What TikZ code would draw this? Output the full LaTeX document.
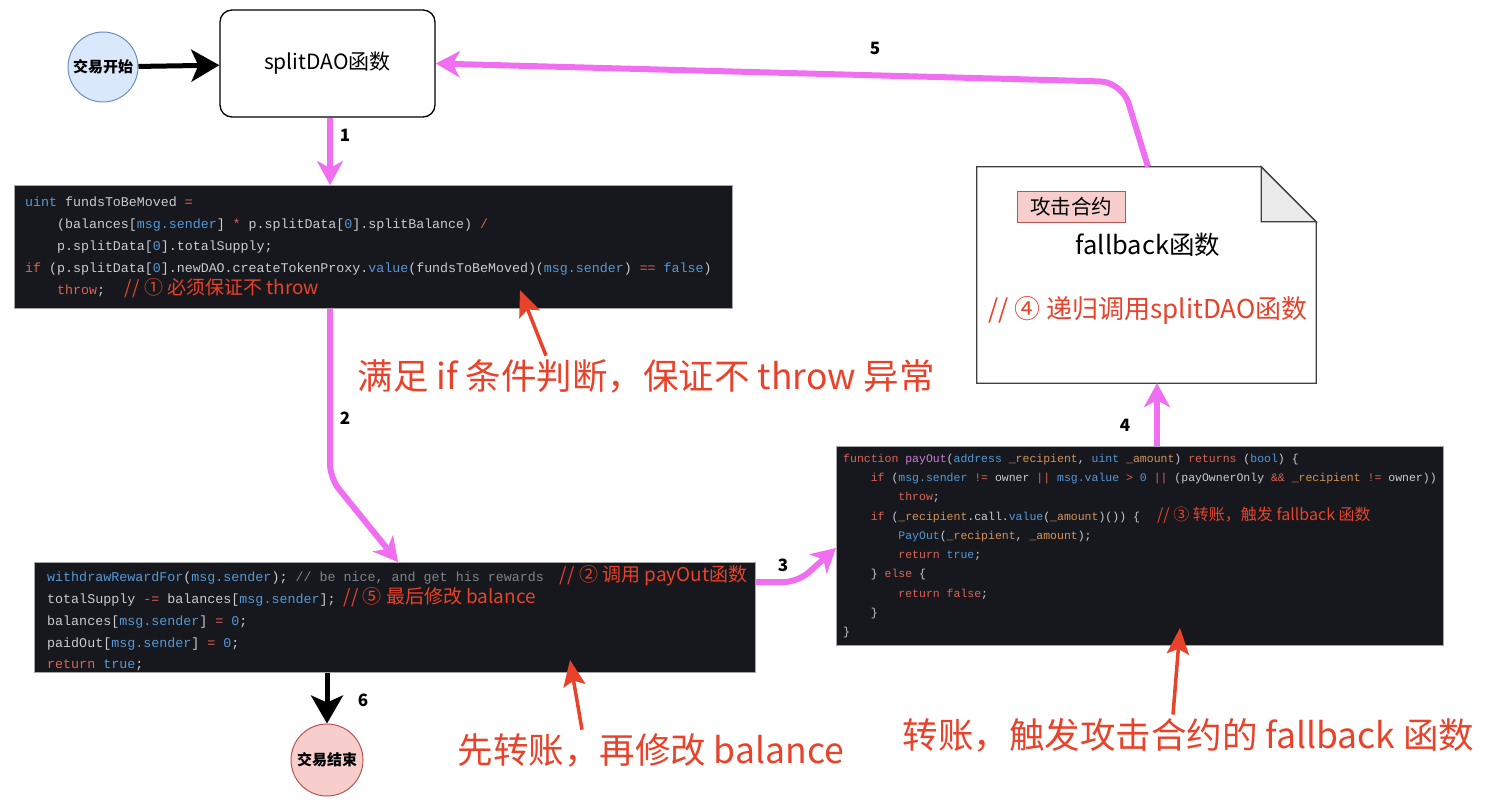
\documentclass[tikz,border=0pt]{standalone}
\usepackage{fontspec}
\setmainfont{Noto Sans CJK SC}
\setmonofont{Liberation Mono}
\usetikzlibrary{arrows.meta, positioning}

\definecolor{flowpink}{RGB}{240,110,240}
\definecolor{notered}{RGB}{232,66,42}
\definecolor{codebg}{RGB}{22,24,29}
\definecolor{codefg}{RGB}{200,203,208}
\definecolor{codekw}{RGB}{222,98,84}
\definecolor{codety}{RGB}{86,152,214}
\definecolor{codecm}{RGB}{125,131,140}
\definecolor{codeva}{RGB}{214,146,88}
\definecolor{codefn}{RGB}{205,120,215}
\definecolor{startblue}{RGB}{218,232,252}
\definecolor{startline}{RGB}{108,142,191}
\definecolor{endred}{RGB}{248,206,204}
\definecolor{endline}{RGB}{184,84,80}

% code colouring
\newcommand{\ckw}[1]{\textcolor{codekw}{#1}}
\newcommand{\cty}[1]{\textcolor{codety}{#1}}
\newcommand{\ccm}[1]{\textcolor{codecm}{#1}}
\newcommand{\cva}[1]{\textcolor{codeva}{#1}}
\newcommand{\cfn}[1]{\textcolor{codefn}{#1}}
\newcommand{\ind}[1]{\hspace*{#1\fontcharwd\font`x}}
\newcommand{\codefont}[2]{\fontsize{#1}{#2}\ttfamily
  \fontdimen2\font=\fontcharwd\font`x\fontdimen3\font=0pt\fontdimen4\font=0pt}
\newcommand{\anno}[2][19]{\rlap{\fontsize{#1}{#1}\selectfont\rmfamily\color{notered}#2}}

\begin{document}
\begin{tikzpicture}[x=1pt, y=-1pt,
  flow/.style={draw=flowpink, line width=6pt, rounded corners=14pt,
    -{Stealth[length=24pt, width=26pt, inset=7pt]}},
  bigflow/.style={draw=black, line width=5pt,
    -{Stealth[length=28pt, width=32pt, inset=7pt]}},
  callout/.style={draw=notered, line width=3.5pt,
    -{Stealth[length=26pt, width=22pt, inset=5pt]}},
  codeblock/.style={fill=codebg, draw=gray!70, line width=1pt,
    anchor=north west, inner sep=0pt},
  codetext/.style={align=left, anchor=west, inner sep=0pt, text=codefg},
  stepno/.style={font=\fontsize{17}{17}\selectfont\bfseries},
  bignote/.style={anchor=west, text=notered, font=\fontsize{35.5}{40}\selectfont},
  endpoint/.style={circle, minimum size=#1, inner sep=0pt, line width=1pt,
    font=\fontsize{15}{15}\selectfont\bfseries}]

\useasboundingbox (0,0) rectangle (1486,810);

% start, splitDAO, end
\node[endpoint=70pt, fill=startblue, draw=startline] (txStart) at (103,67) {交易开始};
\node[draw, line width=1.3pt, rounded corners=12pt, minimum width=215pt,
  minimum height=107pt, font=\fontsize{21}{21}\selectfont] (splitFn) at (327.5,63.5) {splitDAO函数};
\node[endpoint=72pt, fill=endred, draw=endline] (txEnd) at (327,760) {交易结束};

% code blocks
\node[codeblock, minimum width=718pt, minimum height=123pt] (fundsCode) at (14,185) {};
\node[codetext, font=\codefont{13.3}{22}] (fundsText) at ([xshift=11pt]fundsCode.west) {%
\cty{uint} fundsToBeMoved \ckw{=}\\
\ind{4}(balances[\cty{msg.sender}] \ckw{*} p.splitData[\cty{0}].splitBalance) \ckw{/}\\
\ind{4}p.splitData[\cty{0}].totalSupply;\\
\ckw{if} (p.splitData[\cty{0}].newDAO.createTokenProxy.\cty{value}(fundsToBeMoved)(\cty{msg.sender}) \ckw{==} \cty{false})\\
\ind{4}\ckw{throw};\ind{2.5}\anno{// ① 必须保证不 throw}};

\node[codeblock, minimum width=721pt, minimum height=110pt] (rewardCode) at (34,562) {};
\node[codetext, font=\codefont{13.35}{21.8}] (rewardText) at ([xshift=13pt, yshift=-1pt]rewardCode.west) {%
\cty{withdrawRewardFor}(\cty{msg.sender}); \ccm{// be nice, and get his rewards}\ind{2}\anno{// ② 调用 payOut函数}\\
totalSupply \ckw{-=} balances[\cty{msg.sender}];\ind{1}\anno{// ⑤ 最后修改 balance}\\
balances[\cty{msg.sender}] \ckw{=} \cty{0};\\
paidOut[\cty{msg.sender}] \ckw{=} \cty{0};\\
\ckw{return} \cty{true};};

\node[codeblock, minimum width=607pt, minimum height=199pt] (payoutCode) at (836,446) {};
\node[codetext, font=\codefont{11.5}{19.3}] (payoutText) at ([xshift=7pt]payoutCode.west) {%
\ckw{function} \cfn{payOut}(\cty{address} \cva{\_recipient}, \cty{uint} \cva{\_amount}) \ckw{returns} (\cty{bool}) \{\\
\ind{4}\ckw{if} (\cty{msg.sender} \ckw{!=} owner \ckw{||} \cty{msg.value} \ckw{>} \cty{0} \ckw{||} (payOwnerOnly \ckw{\&\&} \cva{\_recipient} \ckw{!=} owner))\\
\ind{8}\ckw{throw};\\
\ind{4}\ckw{if} (\cva{\_recipient}.call.\cty{value}(\cva{\_amount})()) \{\ind{2.5}\anno[16]{// ③ 转账，触发 fallback 函数}\\
\ind{8}\cty{PayOut}(\cva{\_recipient}, \cva{\_amount});\\
\ind{8}\ckw{return} \cty{true};\\
\ind{4}\} \ckw{else} \{\\
\ind{8}\ckw{return} \ckw{false};\\
\ind{4}\}\\
\}};

% attack contract note
\node[minimum width=339pt, minimum height=216pt, inner sep=0pt] (attackNote) at (1146.5,275) {};
\draw[line width=1.3pt, draw=black!75, fill=white] (attackNote.north west)
  -- ([xshift=-55pt]attackNote.north east) -- ([yshift=-55pt]attackNote.north east)
  -- (attackNote.south east) -- (attackNote.south west) -- cycle;
\draw[line width=1.3pt, draw=black!75, fill=black!8] ([xshift=-55pt]attackNote.north east)
  -- ([xshift=-55pt, yshift=-55pt]attackNote.north east) -- ([yshift=-55pt]attackNote.north east) -- cycle;
\node[fill=endred, draw=endline, line width=1pt, minimum width=108pt, minimum height=31pt,
  font=\fontsize{20.5}{20.5}\selectfont] (attackTag) at (1071,207) {攻击合约};
\node[font=\fontsize{25.5}{25.5}\selectfont] (fallbackTitle) at (1148,245) {fallback函数};
\node[text=notered, font=\fontsize{26}{26}\selectfont] (recurseNote) at (1148,310) {// ④ 递归调用splitDAO函数};

% flow
\draw[bigflow] (txStart) -- (splitFn);
\draw[flow] (splitFn.south -| 330,0) -- (fundsCode.north -| 330,0);
\draw[flow] (fundsCode.south -| 330,0) -- (330,478) -- (rewardCode.north -| 398,0);
\draw[flow] (rewardCode.east |- 0,582) -- (798,582) -- (payoutCode.west |- 0,548);
\draw[flow] (payoutCode.north -| 1157,0) -- (attackNote.south -| 1157,0);
\draw[flow, rounded corners=22pt] (attackNote.north -| 1148,0) -- (1122,82) -- (splitFn.east);
\draw[bigflow] (rewardCode.south -| txEnd.north) -- (txEnd);

\node[stepno] (n1) at (345,135) {1};
\node[stepno] (n2) at (345,418) {2};
\node[stepno] (n3) at (783,565) {3};
\node[stepno] (n4) at (1125,425) {4};
\node[stepno] (n5) at (875,48) {5};
\node[stepno] (n6) at (363,700) {6};

% red remarks
\node[bignote] (ifNote) at (354,376) {满足 if 条件判断，保证不 throw 异常};
\node[bignote] (orderNote) at (454,750) {先转账，再修改 balance};
\node[bignote] (fallbackNote) at (899,735) {转账，触发攻击合约的 fallback 函数};

\coordinate (ifTip) at (520,290);
\coordinate (orderTip) at (570,660);
\coordinate (payTip) at (1180,628);
\draw[callout] (ifNote.north -| 546,0) -- (ifTip);
\draw[callout] (orderNote.north -| 582,0) -- (orderTip);
\draw[callout] (fallbackNote.north -| 1173,0) -- (payTip);
\end{tikzpicture}
\end{document}
